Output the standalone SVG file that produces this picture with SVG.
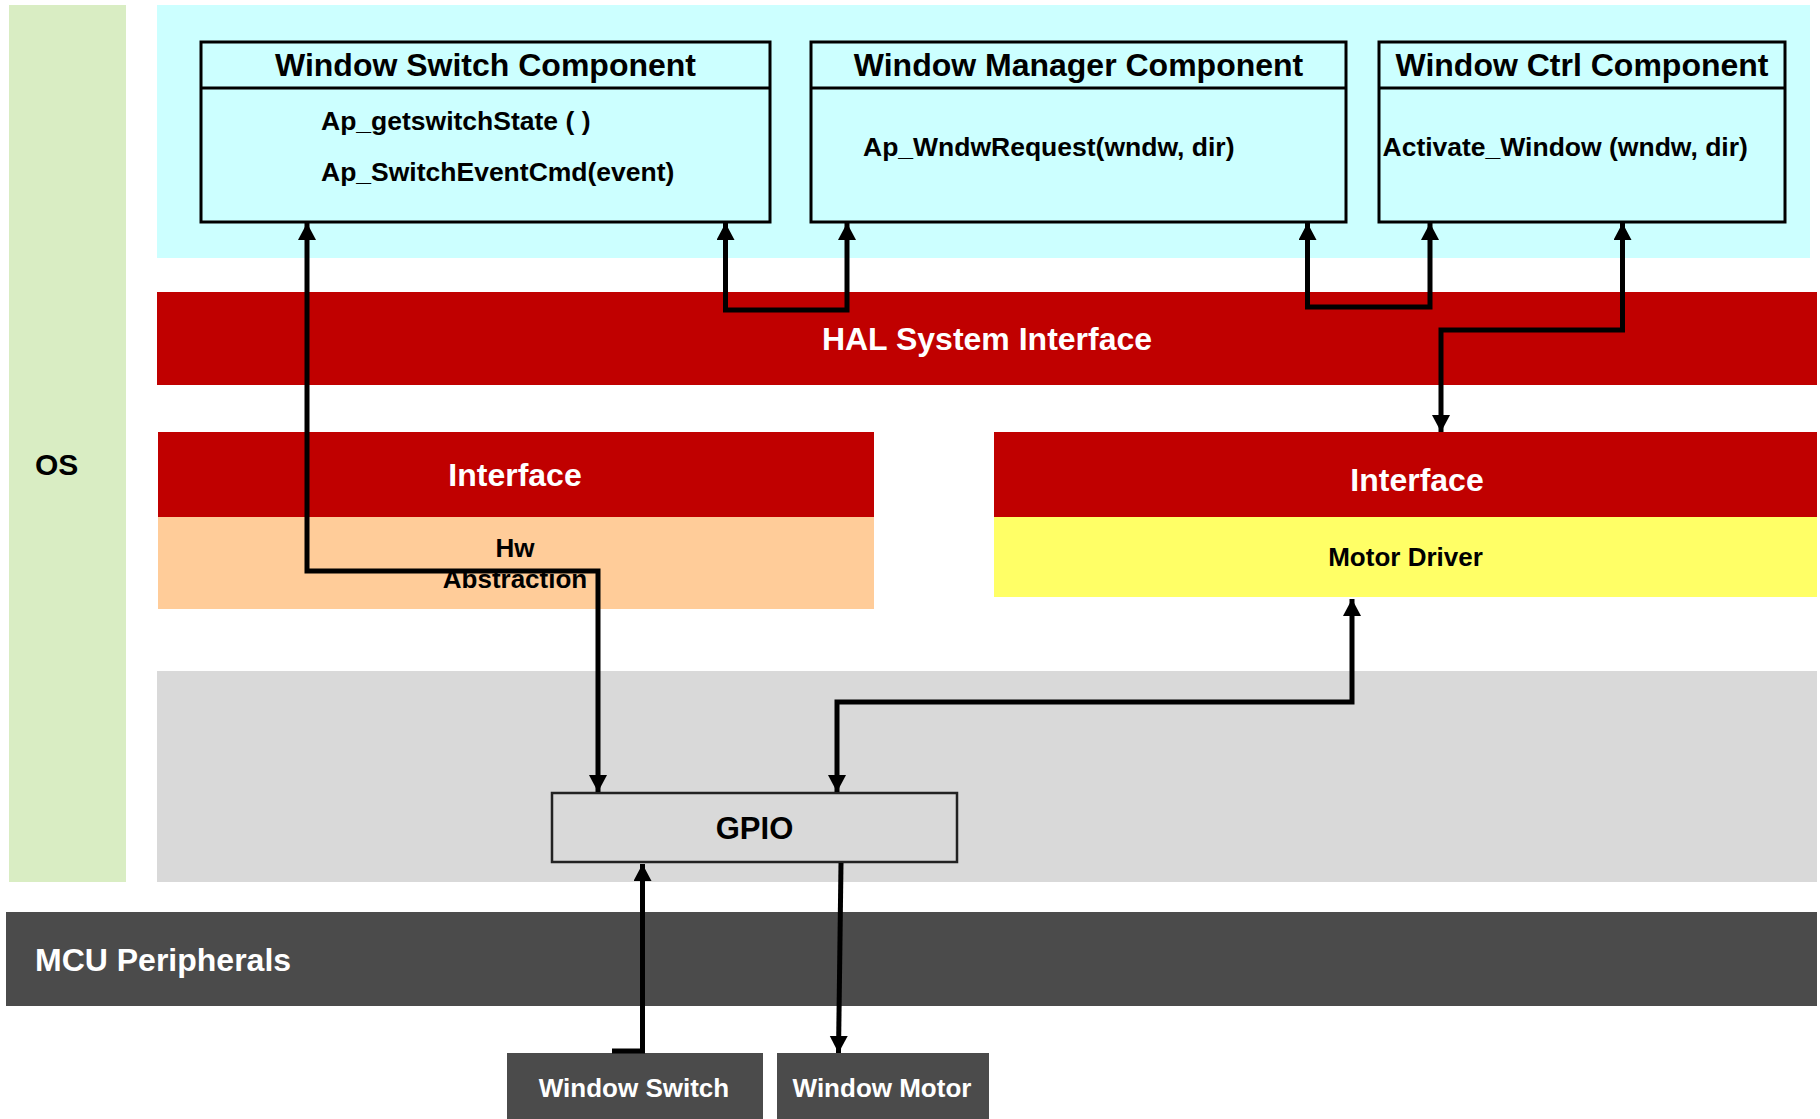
<svg xmlns="http://www.w3.org/2000/svg" width="1820" height="1119" viewBox="0 0 1820 1119">
<defs>
<marker id="ah" markerUnits="userSpaceOnUse" markerWidth="19" markerHeight="19" refX="17" refY="9" orient="auto-start-reverse" viewBox="0 0 19 19">
<path d="M0,0 L17,9 L0,18 z" fill="#000"/>
</marker>
<style>
text{font-family:"Liberation Sans",Arial,sans-serif;font-weight:bold}
.t32w{font-size:32px;fill:#fff}
.t32{font-size:32px;fill:#000}
.t26{font-size:26.5px;fill:#000}
.t26w{font-size:26px;fill:#fff}
.comp{fill:#ccffff;stroke:#000;stroke-width:3}
.conn{fill:none;stroke:#000;stroke-width:5}
.mid{text-anchor:middle}
</style>
</defs>
<rect width="1820" height="1119" fill="#fff"/>
<g id="os">
<rect x="9" y="5" width="117" height="877" fill="#d9edc3"/>
<text x="35" y="475" class="t32" style="font-size:30px">OS</text>
</g>
<g id="app-layer">
<rect x="157" y="5" width="1653" height="253" fill="#ccffff"/>
</g>
<g id="hal">
<rect x="157" y="292" width="1660" height="93" fill="#c00000"/>
<text x="987" y="350" class="t32w mid">HAL System Interface</text>
</g>
<g id="hw-abstraction">
<rect x="158" y="432" width="716" height="85" fill="#c00000"/>
<rect x="158" y="517" width="716" height="92" fill="#ffcc99"/>
<text x="515" y="486" class="t32w mid">Interface</text>
<text x="515" y="557" class="t26 mid" style="font-size:26px">Hw</text>
<text x="515" y="588" class="t26 mid" style="font-size:26px">Abstraction</text>
</g>
<g id="motor-driver">
<rect x="994" y="432" width="823" height="85" fill="#c00000"/>
<rect x="994" y="517" width="823" height="80" fill="#ffff66"/>
<text x="1417" y="491" class="t32w mid">Interface</text>
<text x="1405.5" y="566" class="t26 mid" style="font-size:26px">Motor Driver</text>
</g>
<g id="mcal">
<rect x="157" y="671" width="1660" height="211" fill="#d9d9d9"/>
</g>
<g id="mcu">
<rect x="6" y="912" width="1811" height="94" fill="#4b4b4b"/>
<text x="35" y="971" class="t32w">MCU Peripherals</text>
</g>
<g id="window-switch-component">
<rect x="201" y="42" width="569" height="180" class="comp"/>
<line x1="201" y1="88" x2="770" y2="88" stroke="#000" stroke-width="3"/>
<text x="485.5" y="76" class="t32 mid">Window Switch Component</text>
<text x="321" y="130" class="t26">Ap_getswitchState ( )</text>
<text x="321" y="180.5" class="t26">Ap_SwitchEventCmd(event)</text>
</g>
<g id="window-manager-component">
<rect x="811" y="42" width="535" height="180" class="comp"/>
<line x1="811" y1="88" x2="1346" y2="88" stroke="#000" stroke-width="3"/>
<text x="1078.5" y="76" class="t32 mid">Window Manager Component</text>
<text x="863" y="156" class="t26">Ap_WndwRequest(wndw, dir)</text>
</g>
<g id="window-ctrl-component">
<rect x="1379" y="42" width="406" height="180" class="comp"/>
<line x1="1379" y1="88" x2="1785" y2="88" stroke="#000" stroke-width="3"/>
<text x="1582" y="76" class="t32 mid">Window Ctrl Component</text>
<text x="1382.5" y="156" class="t26">Activate_Window (wndw, dir)</text>
</g>
<g id="gpio">
<rect x="552" y="793" width="405" height="69" fill="#d9d9d9" stroke="#222" stroke-width="2.5"/>
<text x="754.5" y="839" class="t32 mid" style="font-size:31px">GPIO</text>
</g>
<g id="window-switch">
<rect x="507" y="1053" width="256" height="66" fill="#4b4b4b"/>
<text x="634" y="1097" class="t26w mid">Window Switch</text>
</g>
<g id="window-motor">
<rect x="777" y="1053" width="212" height="66" fill="#4b4b4b"/>
<text x="882" y="1097" class="t26w mid">Window Motor</text>
</g>
<g id="connectors">
<path class="conn" d="M725.5,223 V310 H847 V223" marker-start="url(#ah)" marker-end="url(#ah)"/>
<path class="conn" d="M1307.5,223 V307 H1430 V223" marker-start="url(#ah)" marker-end="url(#ah)"/>
<path class="conn" d="M1622.5,223 V330 H1441 V432" marker-start="url(#ah)" marker-end="url(#ah)"/>
<path class="conn" d="M307,223 V571 H598 V792" marker-start="url(#ah)" marker-end="url(#ah)"/>
<path class="conn" d="M837,792 V702 H1352 V599" marker-start="url(#ah)" marker-end="url(#ah)"/>
<path class="conn" d="M642.5,864 V1051 H612" marker-start="url(#ah)"/>
<path class="conn" d="M841,863 L838.5,1053" marker-end="url(#ah)"/>
</g>
</svg>
